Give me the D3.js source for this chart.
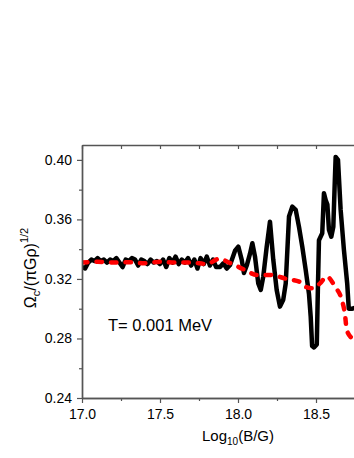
<!DOCTYPE html>
<html>
<head>
<meta charset="utf-8">
<script src="https://cdn.jsdelivr.net/npm/d3@7"></script>
<style>
  body { margin: 0; background: #fff; }
  svg { display: block; font-family: 'Liberation Sans', Arial, sans-serif; }
</style>
</head>
<body>
<svg id="chart" width="354" height="458"></svg>
<script>
// black curve (solid, square markers)
const blackX = [
  17.00, 17.02, 17.04, 17.06, 17.08, 17.10, 17.12, 17.14, 17.16, 17.18,
  17.20, 17.22, 17.24, 17.26, 17.28, 17.30, 17.32, 17.34, 17.36, 17.38,
  17.40, 17.42, 17.44, 17.46, 17.48, 17.50, 17.52, 17.54, 17.56, 17.58,
  17.60, 17.62, 17.64, 17.66, 17.68, 17.70, 17.72, 17.74, 17.76, 17.78,
  17.80, 17.82, 17.84, 17.86, 17.885, 17.906, 17.928, 17.949, 17.981, 18.002,
  18.024, 18.038, 18.056, 18.077, 18.092, 18.109, 18.13, 18.146, 18.162, 18.184,
  18.205, 18.226, 18.248, 18.269, 18.29, 18.306, 18.327, 18.348, 18.37, 18.391,
  18.412, 18.434, 18.455, 18.466, 18.475, 18.487, 18.505, 18.512, 18.519, 18.54,
  18.551, 18.562, 18.573, 18.583, 18.598, 18.611, 18.62, 18.626, 18.641, 18.658,
  18.679, 18.70, 18.71, 18.733, 18.76
];
const blackY = [
  0.328, 0.327, 0.331, 0.333, 0.332, 0.334, 0.332, 0.333, 0.331, 0.333,
  0.332, 0.334, 0.331, 0.328, 0.333, 0.332, 0.334, 0.333, 0.329, 0.333,
  0.332, 0.330, 0.333, 0.331, 0.332, 0.330, 0.333, 0.328, 0.334, 0.331,
  0.335, 0.330, 0.333, 0.331, 0.334, 0.329, 0.333, 0.327, 0.334, 0.330,
  0.335, 0.329, 0.333, 0.328, 0.328, 0.3305, 0.327, 0.3294, 0.339, 0.3417,
  0.3328, 0.324, 0.329, 0.337, 0.344, 0.335, 0.317, 0.3126, 0.3216, 0.3417,
  0.3585, 0.333, 0.3126, 0.3014, 0.306, 0.317, 0.362, 0.3686, 0.3664, 0.355,
  0.3417, 0.326, 0.310, 0.2947, 0.275, 0.274, 0.276, 0.313, 0.346, 0.3507,
  0.3776, 0.373, 0.370, 0.353, 0.3484, 0.355, 0.384, 0.402, 0.400, 0.3664,
  0.3395, 0.317, 0.300, 0.300, 0.301
];

// red curve (dashed)
const redX = [
  17.00, 17.10, 17.20, 17.30, 17.40, 17.50, 17.60, 17.70, 17.80, 17.88,
  17.949, 18.045, 18.12, 18.205, 18.312, 18.397, 18.429, 18.483, 18.526, 18.569,
  18.622, 18.665, 18.686, 18.697, 18.74, 18.78
];
const redY = [
  0.3310, 0.3315, 0.3310, 0.3312, 0.3305, 0.3315, 0.3310, 0.3310, 0.3300, 0.3335,
  0.3307, 0.3260, 0.3227, 0.3227, 0.3200, 0.3180, 0.3148, 0.3137, 0.3170, 0.3216,
  0.3148, 0.3060, 0.2960, 0.2857, 0.2790, 0.2740
];

const xMajor = [17.0, 17.5, 18.0, 18.5];
const xMinor = [17.25, 17.75, 18.25, 18.75];
const yMajor = [0.24, 0.28, 0.32, 0.36, 0.40];
const yMinor = [0.26, 0.30, 0.34, 0.38];

const margin = { left: 82, top: 145, right: 394, bottom: 398 };
const axisColor = '#555';

const svg = d3.select('#chart');

const x = d3.scaleLinear().domain([17, 19]).range([margin.left, margin.right]);
const y = d3.scaleLinear().domain([0.24, 0.41]).range([margin.bottom, margin.top]);

svg.append('defs')
  .append('clipPath')
  .attr('id', 'plot-clip')
  .append('rect')
  .attr('x', margin.left)
  .attr('y', margin.top)
  .attr('width', margin.right - margin.left)
  .attr('height', margin.bottom - margin.top);

const plot = svg.append('g').attr('clip-path', 'url(#plot-clip)');

const line = d3.line().x((d) => x(d[0])).y((d) => y(d[1]));

plot.append('path')
  .datum(blackX.map((v, i) => [v, blackY[i]]))
  .attr('d', line)
  .attr('fill', 'none')
  .attr('stroke', '#000')
  .attr('stroke-width', 4.5)
  .attr('stroke-linejoin', 'round');

plot.append('path')
  .datum(redX.map((v, i) => [v, redY[i]]))
  .attr('d', line.curve(d3.curveMonotoneX))
  .attr('fill', 'none')
  .attr('stroke', '#ff0000')
  .attr('stroke-width', 4.5)
  .attr('stroke-linecap', 'round')
  .attr('stroke-dasharray', '5.5,9');

// axes
const styleAxis = (g) => {
  g.select('.domain').attr('stroke', axisColor).attr('stroke-width', 1.4);
  g.selectAll('.tick line').attr('stroke', axisColor).attr('stroke-width', 1.2);
  g.selectAll('.tick text').attr('fill', '#000').style('font-size', '14px');
};

svg.append('g')
  .attr('transform', `translate(0,${margin.bottom})`)
  .call(d3.axisBottom(x).tickValues(xMajor).tickFormat(d3.format('.1f')).tickSize(5).tickPadding(6).tickSizeOuter(0))
  .call(styleAxis);
svg.append('g')
  .attr('transform', `translate(0,${margin.bottom})`)
  .call(d3.axisBottom(x).tickValues(xMinor).tickFormat('').tickSize(3).tickSizeOuter(0))
  .call(styleAxis);

svg.append('g')
  .attr('transform', `translate(0,${margin.top})`)
  .call(d3.axisTop(x).tickValues(xMajor.concat(xMinor)).tickFormat('').tickSize(-4).tickSizeOuter(0))
  .call(styleAxis);

svg.append('g')
  .attr('transform', `translate(${margin.left},0)`)
  .call(d3.axisLeft(y).tickValues(yMajor).tickFormat(d3.format('.2f')).tickSize(5).tickPadding(5).tickSizeOuter(0))
  .call(styleAxis);
svg.append('g')
  .attr('transform', `translate(${margin.left},0)`)
  .call(d3.axisLeft(y).tickValues(yMinor).tickFormat('').tickSize(3).tickSizeOuter(0))
  .call(styleAxis);

// axis titles
const xTitle = svg.append('text')
  .attr('x', 238)
  .attr('y', 441)
  .attr('text-anchor', 'middle')
  .style('font-size', '15px')
  .attr('fill', '#000');
xTitle.append('tspan').text('Log');
xTitle.append('tspan').attr('dy', 4).style('font-size', '10px').text('10');
xTitle.append('tspan').attr('dy', -4).text('(B/G)');

const yTitle = svg.append('text')
  .attr('transform', 'translate(36,268) rotate(-90)')
  .attr('text-anchor', 'middle')
  .style('font-size', '16px')
  .attr('fill', '#000');
yTitle.append('tspan').text('Ω');
yTitle.append('tspan').attr('dy', 4).style('font-size', '11px').text('c');
yTitle.append('tspan').attr('dy', -4).text('/(πGρ)');
yTitle.append('tspan').attr('dy', -8).style('font-size', '11px').text('1/2');

svg.append('text')
  .attr('x', 108)
  .attr('y', 331)
  .style('font-size', '16.5px')
  .attr('fill', '#000')
  .text('T= 0.001 MeV');
</script>
</body>
</html>
